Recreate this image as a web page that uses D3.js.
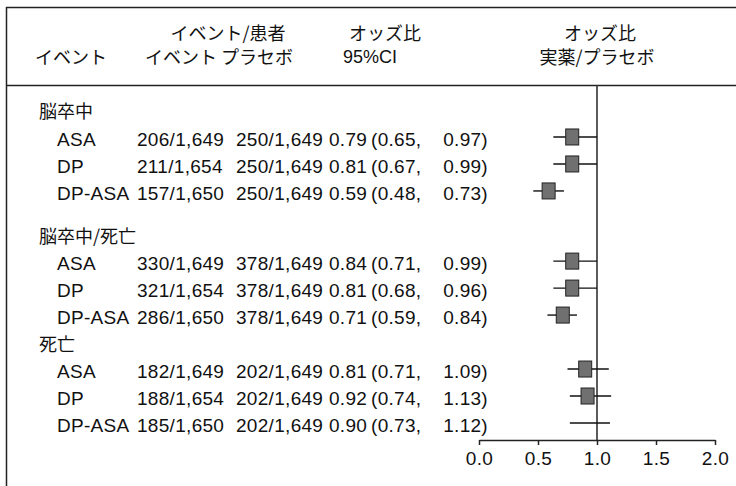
<!DOCTYPE html>
<html>
<head>
<meta charset="utf-8">
<script src="https://cdn.jsdelivr.net/npm/d3@7"></script>
<style>
  body { margin: 0; background: #fff; }
  svg text { fill: #111; }
  .lat { font-family: 'Liberation Sans', Arial, sans-serif; font-size: 19px; letter-spacing: 0.3px; }
  .hlat { font-family: 'Liberation Sans', Arial, sans-serif; font-size: 18px; }
  .jp { font-family: 'Noto Sans CJK JP', sans-serif; font-size: 18px; }
</style>
</head>
<body>
<svg id="chart"></svg>
<script>
// Data
const groups = ['脳卒中', '脳卒中/死亡', '死亡'];
const treatments = ['ASA', 'DP', 'DP-ASA'];
const eventsActive = ['206/1,649', '211/1,654', '157/1,650',
                      '330/1,649', '321/1,654', '286/1,650',
                      '182/1,649', '188/1,654', '185/1,650'];
const eventsPlacebo = ['250/1,649', '250/1,649', '250/1,649',
                       '378/1,649', '378/1,649', '378/1,649',
                       '202/1,649', '202/1,649', '202/1,649'];
const orText = ['0.79', '0.81', '0.59', '0.84', '0.81', '0.71', '0.81', '0.92', '0.90'];
const loText = ['0.65', '0.67', '0.48', '0.71', '0.68', '0.59', '0.71', '0.74', '0.73'];
const hiText = ['0.97', '0.99', '0.73', '0.99', '0.96', '0.84', '1.09', '1.13', '1.12'];
// plotted positions (as drawn; the last box is not printed in the source)
const orPlot = [0.79, 0.79, 0.59, 0.79, 0.79, 0.71, 0.90, 0.92, null];
const loPlot = [0.63, 0.63, 0.46, 0.63, 0.63, 0.58, 0.75, 0.77, 0.77];
const hiPlot = [1.00, 1.00, 0.72, 1.00, 1.00, 0.83, 1.10, 1.12, 1.11];
const ticks = [0, 0.5, 1, 1.5, 2];

const width = 736, height = 486;

const svg = d3.select('#chart')
  .attr('width', width)
  .attr('height', height);

const x = d3.scaleLinear().domain([0, 2]).range([479, 715]);

// Frame lines
const frame = svg.append('g').attr('stroke', '#222').attr('stroke-width', 1.5);
frame.append('line').attr('x1', 6).attr('x2', width).attr('y1', 7.5).attr('y2', 7.5);
frame.append('line').attr('x1', 6).attr('x2', width).attr('y1', 85.5).attr('y2', 85.5);
frame.append('line').attr('x1', 6.5).attr('x2', 6.5).attr('y1', 7).attr('y2', height);

// Headers: [text, center x, baseline y, class]
const header = [
  ['イベント/患者', 228, 40, 'jp'], ['オッズ比', 385, 40, 'jp'], ['オッズ比', 600, 40, 'jp'],
  ['イベント', 71, 64, 'jp'], ['イベント プラセボ', 219, 64, 'jp'], ['95%CI', 370, 63, 'hlat'],
  ['実薬/プラセボ', 597, 64, 'jp']
];
svg.append('g')
  .selectAll('text')
  .data(header)
  .join('text')
  .attr('class', d => d[3])
  .attr('x', d => d[1])
  .attr('y', d => d[2])
  .attr('text-anchor', 'middle')
  .text(d => d[0]);

// Row layout: group label row followed by its treatments
const rows = [];
groups.forEach((g, gi) => {
  const base = gi * 4 + (gi > 0 ? 0.6 : 0);
  rows.push({ type: 'group', label: g, slot: base });
  treatments.forEach((t, ti) => {
    rows.push({ type: 'item', label: t, slot: base + 1 + ti, i: gi * 3 + ti });
  });
});

const y = d3.scaleLinear().domain([0, 11.6]).range([112, 425]);

// Group labels
svg.append('g')
  .selectAll('text')
  .data(rows.filter(r => r.type === 'group'))
  .join('text')
  .attr('class', 'jp')
  .attr('x', 39)
  .attr('y', d => y(d.slot))
  .attr('dy', '0.36em')
  .text(d => d.label);

// Item rows
const items = rows.filter(r => r.type === 'item');
const cols = [
  { x: 57, anchor: 'start', f: d => d.label },
  { x: 137, anchor: 'start', f: d => eventsActive[d.i] },
  { x: 236, anchor: 'start', f: d => eventsPlacebo[d.i] },
  { x: 329, anchor: 'start', f: d => orText[d.i] },
  { x: 371, anchor: 'start', f: d => `(${loText[d.i]},` },
  { x: 488, anchor: 'end', f: d => `${hiText[d.i]})` }
];
cols.forEach(c => {
  svg.append('g')
    .selectAll('text')
    .data(items)
    .join('text')
    .attr('class', 'lat')
    .attr('x', c.x)
    .attr('y', d => y(d.slot))
    .attr('dy', '0.36em')
    .attr('text-anchor', c.anchor)
    .text(c.f);
});

// Reference line at 1.0
svg.append('line')
  .attr('x1', x(1)).attr('x2', x(1))
  .attr('y1', 85).attr('y2', 440)
  .attr('stroke', '#333')
  .attr('stroke-width', 1.6);

// Confidence intervals
svg.append('g')
  .attr('stroke', '#111')
  .attr('stroke-width', 1.4)
  .selectAll('line')
  .data(items)
  .join('line')
  .attr('x1', d => x(loPlot[d.i]))
  .attr('x2', d => x(hiPlot[d.i]))
  .attr('y1', d => y(d.slot) - 2)
  .attr('y2', d => y(d.slot) - 2);

// Point estimates
svg.append('g')
  .selectAll('rect')
  .data(items.filter(d => orPlot[d.i] !== null))
  .join('rect')
  .attr('x', d => x(orPlot[d.i]) - 6.5)
  .attr('y', d => y(d.slot) - 10)
  .attr('width', 13)
  .attr('height', 16)
  .attr('fill', '#707070')
  .attr('stroke', '#222')
  .attr('stroke-width', 1);

// Axis
const axis = svg.append('g')
  .attr('transform', 'translate(0,440)')
  .call(d3.axisBottom(x).tickValues(ticks).tickFormat(d3.format('.1f')).tickSize(5).tickSizeOuter(0).tickPadding(7));
axis.select('.domain').attr('stroke', '#222').attr('stroke-width', 1.5);
axis.selectAll('.tick line').attr('stroke', '#222').attr('stroke-width', 1.5);
axis.selectAll('.tick text')
  .attr('class', 'lat')
  .attr('fill', '#111');
</script>
</body>
</html>
